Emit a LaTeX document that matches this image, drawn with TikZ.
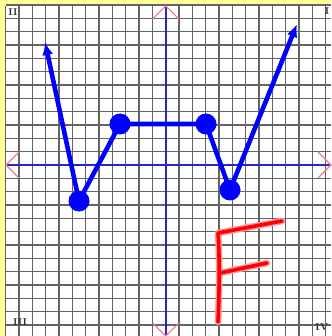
\documentclass[tikz,border=0pt]{standalone}
\usetikzlibrary{arrows.meta}
\definecolor{bgyellow}{RGB}{255,255,153}
\definecolor{gridgray}{RGB}{100,100,100}
\definecolor{axisblue}{RGB}{40,40,200}
\definecolor{markpink}{RGB}{235,120,150}
\definecolor{curveblue}{RGB}{0,0,255}
\definecolor{fred}{RGB}{255,0,0}
\definecolor{fhalo}{RGB}{255,150,160}
\definecolor{labgray}{RGB}{45,45,45}
\tikzset{
  gridline/.style={draw=gridgray, line width=1.5pt},
  axisline/.style={draw=axisblue, line width=1.8pt},
  axismark/.style={draw=markpink, line width=1.1pt},
  curve/.style={draw=curveblue, line width=4.6pt, line join=round},
  tipcurve/.style={curve, -{Latex[length=13pt,width=11pt]}},
  dot/.style={circle, fill=curveblue, inner sep=0pt, minimum size=21pt},
  fhalostroke/.style={draw=fhalo, line width=6.5pt, line cap=round, line join=round},
  fstroke/.style={draw=fred, line width=3.6pt, line cap=round, line join=round},
  quadlabel/.style={text=labgray, font=\fontsize{10}{10}\selectfont\bfseries, inner sep=0pt}
}
\begin{document}
\begin{tikzpicture}[x=1pt, y=-1pt]
  % background
  \fill[bgyellow] (0,0) rectangle (331,336);
  \useasboundingbox (0,0) rectangle (331,336);
  \fill[white] (6,6) rectangle (331,336);
  % grid
  \begin{scope}
    \clip (5,5) rectangle (331,336);
    \foreach \k in {-12,...,12} {
      \draw[gridline] ({165.7+13.33*\k},6) -- ({165.7+13.33*\k},336);
    }
    \foreach \k in {-12,...,13} {
      \draw[gridline] (6,{165+13.33*\k}) -- (331,{165+13.33*\k});
    }
  \end{scope}
  % axes
  \coordinate (xl) at (6,165);
  \coordinate (xr) at (331,165);
  \coordinate (yt) at (165.7,6);
  \coordinate (yb) at (165.7,336);
  \draw[axisline] (xl) -- (xr);
  \draw[axisline] (yt) -- (yb);
  % axis end marks
  \draw[axismark] (19,152) -- (xl) -- (19,178);
  \draw[axismark] (318,152) -- (xr) -- (318,178);
  \draw[axismark] (152.5,19) -- (yt) -- (179,19);
  \draw[axismark] (152.5,323) -- (yb) -- (179,323);
  % quadrant labels
  \node[quadlabel] (q2) at (13,12) {II};
  \node[quadlabel] (q1) at (327,11) {I};
  \node[quadlabel] (q3) at (20,322) {III};
  \node[quadlabel] (q4) at (322,327) {IV};
  % blue curve
  \coordinate (tl) at (45,42);
  \coordinate (tr) at (297,24);
  \node[dot] (A) at (79,201) {};
  \node[dot] (B) at (120,124) {};
  \node[dot] (C) at (206,124) {};
  \node[dot] (D) at (230,190) {};
  \draw[curve] (A.center) -- (B.center) -- (C.center) -- (D.center);
  \draw[tipcurve] (A.center) -- (tl);
  \draw[tipcurve] (D.center) -- (tr);
  % red F
  \coordinate (f1) at (218,233);
  \coordinate (f2) at (282,221);
  \coordinate (f3) at (220,273);
  \coordinate (f4) at (267,263);
  \coordinate (f5) at (218,322);
  \draw[fhalostroke] (f2) -- (f1) .. controls (220,260) and (219,300) .. (f5);
  \draw[fhalostroke] (f3) -- (f4);
  \draw[fstroke] (f2) -- (f1) .. controls (220,260) and (219,300) .. (f5);
  \draw[fstroke] (f3) -- (f4);
\end{tikzpicture}
\end{document}
